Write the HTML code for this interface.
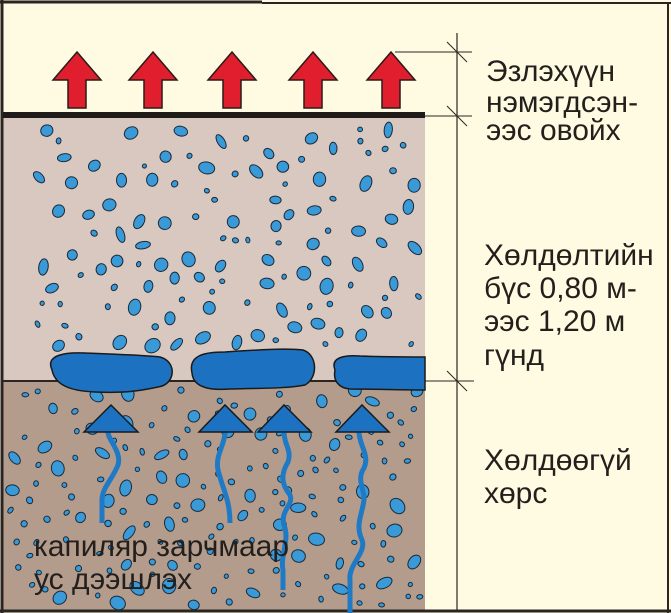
<!DOCTYPE html>
<html><head><meta charset="utf-8"><style>
html,body{margin:0;padding:0;background:#fffbe2;}
svg{display:block}
text{font-family:"Liberation Sans",sans-serif;fill:#231f1c;}
</style></head><body>
<svg id="s" width="671" height="613" viewBox="0 0 671 613" xmlns="http://www.w3.org/2000/svg">
<rect x="0" y="0" width="671" height="613" fill="#fffbe2"/>
<rect x="3" y="117" width="422" height="264" fill="#d8c8bf"/>
<rect x="3" y="381" width="422" height="230" fill="#b39c8c"/>
<g id="dots"></g>
<line x1="2" y1="0" x2="2" y2="613" stroke="#2a2522" stroke-width="3"/>
<line x1="0" y1="2" x2="262" y2="2" stroke="#2a2522" stroke-width="3"/>
<line x1="262" y1="3" x2="671" y2="3" stroke="#2a2522" stroke-width="2"/>
<line x1="668" y1="3" x2="668" y2="613" stroke="#2a2522" stroke-width="2"/>
<line x1="0" y1="611" x2="671" y2="611" stroke="#2a2522" stroke-width="3"/>
<rect x="3" y="112" width="422" height="6" fill="#1f1b19"/>
<line x1="3" y1="381" x2="425" y2="381" stroke="#2a2522" stroke-width="2"/>
<line x1="457" y1="33" x2="457" y2="611" stroke="#2a2522" stroke-width="1.2"/>
<line x1="395" y1="52" x2="472" y2="52" stroke="#2a2522" stroke-width="1"/>
<line x1="425" y1="116" x2="472" y2="116" stroke="#2a2522" stroke-width="1"/>
<line x1="425" y1="381" x2="474" y2="381" stroke="#2a2522" stroke-width="1"/>
<line x1="447" y1="42" x2="467" y2="62" stroke="#2a2522" stroke-width="1"/>
<line x1="447" y1="106" x2="467" y2="126" stroke="#2a2522" stroke-width="1"/>
<line x1="447" y1="371" x2="467" y2="391" stroke="#2a2522" stroke-width="1"/>
<g fill="#e01e2e" stroke="#2a1a1a" stroke-width="1.5" id="arrows"></g>
<g fill="#1c72c0" stroke="#1a1a1a" stroke-width="1.5">
<path d="M52,370 C45,355 65,352 85,353 C110,354 140,355 160,357 C178,362 175,385 158,387 C135,392 120,393 95,392 C70,391 55,385 52,370 Z"/>
<path d="M192,373 C188,355 205,352 225,352 C255,350 285,348 303,350 C318,355 318,378 305,385 C285,389 255,388 230,389 C205,391 193,385 192,373 Z"/>
<path d="M335,370 C330,357 345,355 360,356 C385,357 405,357 425,357 L425,390 C400,390 375,389 350,389 C338,388 333,380 335,370 Z"/>
</g>
<g fill="none" stroke="#1f7ac6" stroke-width="5">
<path d="M108,432 C108,440 122,452 118,465 C112,480 102,488 102,500 L102,523"/>
<path d="M225,432 C225,445 215,455 218,470 C223,490 230,500 230,523"/>
<path d="M284,432 C284,445 292,450 288,462 C280,475 282,485 290,495 C294,505 280,510 284,525 C290,540 280,555 283,570 L283,590"/>
<path d="M359,432 C359,445 370,455 364,468 C356,480 365,490 364,500 C362,515 355,525 362,540 C367,552 348,565 350,580 L350,613"/>
</g>
<g fill="#1c72c0" stroke="#1a1a1a" stroke-width="1.5">
<polygon points="84,432 111,405 138,432"/>
<polygon points="199,432 225,405 252,432"/>
<polygon points="258,432 284,405 311,432"/>
<polygon points="336,432 362,405 389,432"/>
</g>
<g font-size="30">
<text x="486" y="81">Эзлэхүүн</text>
<text x="486" y="112">нэмэгдсэн-</text>
<text x="486" y="140">ээс овойх</text>
<text x="484" y="265">Хөлдөлтийн</text>
<text x="484" y="298">бүс 0,80 м-</text>
<text x="484" y="331">ээс 1,20 м</text>
<text x="484" y="365">гүнд</text>
<text x="484" y="470">Хөлдөөгүй</text>
<text x="484" y="503">хөрс</text>
<text x="34" y="556">капиляр зарчмаар</text>
<text x="34" y="589">ус дээшлэх</text>
</g>
</svg>
<script>
(function(){
var ns="http://www.w3.org/2000/svg";
var A=document.getElementById("arrows");
[77,153,232,313,391].forEach(function(c){
 var p=document.createElementNS(ns,"polygon");
 var pts=[[c,52],[c+24,80],[c+9,80],[c+9,108],[c-9,108],[c-9,80],[c-24,80]];
 p.setAttribute("points",pts.map(function(a){return a.join(",");}).join(" "));
 A.appendChild(p);
});
var s=24680;function r(){s=(s*16807)%2147483647;return s/2147483647;}
var g=document.getElementById("dots");
var placed=[];
function dot(x,y,big){
 var rx=big?(5+r()*3.5):(2+r()*1.5), ry=big?(3.5+r()*3.5):(2+r()*1.2);
 for(var k=0;k<placed.length;k++){var q=placed[k];var dx=q[0]-x,dy=q[1]-y;if(dx*dx+dy*dy<Math.pow(q[2]+Math.max(rx,ry)+6,2))return;}
 placed.push([x,y,Math.max(rx,ry)]);
 var e=document.createElementNS(ns,"ellipse");
 e.setAttribute("cx",x);e.setAttribute("cy",y);e.setAttribute("rx",rx);e.setAttribute("ry",ry);
 e.setAttribute("transform","rotate("+(r()*180)+" "+x+" "+y+")");
 e.setAttribute("fill","#3a9ad8");e.setAttribute("stroke","#1a2a3a");e.setAttribute("stroke-width","1");
 g.appendChild(e);
}
for(var i=0;i<300;i++){var x=35+r()*385,y=128+r()*218;dot(x,y,r()<0.7);}
placed=[];
for(var i=0;i<500;i++){var x=10+r()*410,y=390+r()*215;dot(x,y,r()<0.45);}
})();
</script>
</body></html>
